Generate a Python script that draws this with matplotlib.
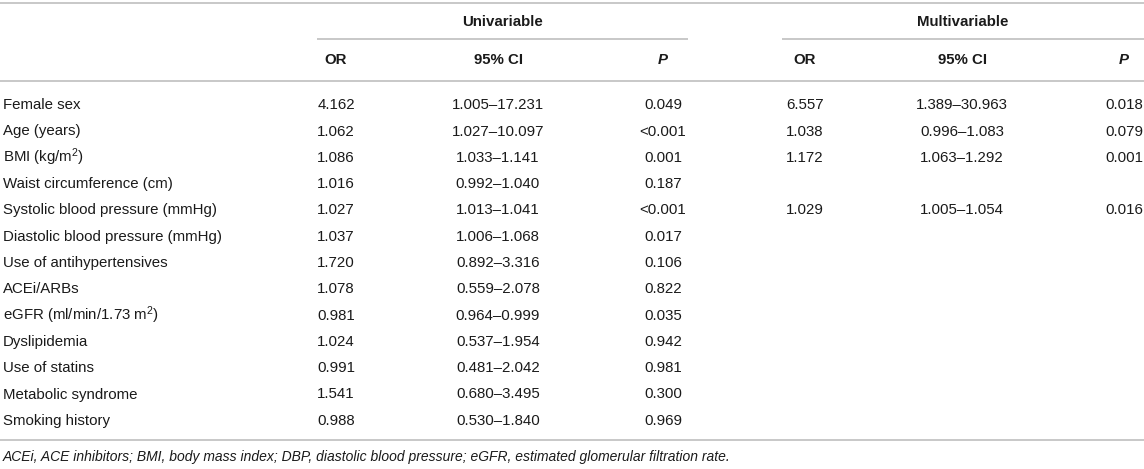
import matplotlib.pyplot as plt

plt.rcParams['font.family'] = ['Liberation Sans', 'DejaVu Sans']
plt.rcParams['mathtext.fontset'] = 'custom'
plt.rcParams['mathtext.rm'] = 'Liberation Sans'

# table content
variables = ['Female sex', 'Age (years)', 'BMI (kg/m$\\mathregular{^2}$)',
             'Waist circumference (cm)', 'Systolic blood pressure (mmHg)',
             'Diastolic blood pressure (mmHg)', 'Use of antihypertensives',
             'ACEi/ARBs', 'eGFR (ml/min/1.73 m$\\mathregular{^2}$)', 'Dyslipidemia',
             'Use of statins', 'Metabolic syndrome', 'Smoking history']
uni_or = ['4.162', '1.062', '1.086', '1.016', '1.027', '1.037', '1.720',
          '1.078', '0.981', '1.024', '0.991', '1.541', '0.988']
uni_ci = ['1.005–17.231', '1.027–10.097', '1.033–1.141', '0.992–1.040',
          '1.013–1.041', '1.006–1.068', '0.892–3.316', '0.559–2.078',
          '0.964–0.999', '0.537–1.954', '0.481–2.042', '0.680–3.495',
          '0.530–1.840']
uni_p = ['0.049', '<0.001', '0.001', '0.187', '<0.001', '0.017', '0.106',
         '0.822', '0.035', '0.942', '0.981', '0.300', '0.969']
multi_or = ['6.557', '1.038', '1.172', '', '1.029', '', '', '', '', '', '', '', '']
multi_ci = ['1.389–30.963', '0.996–1.083', '1.063–1.292', '', '1.005–1.054',
            '', '', '', '', '', '', '', '']
multi_p = ['0.018', '0.079', '0.001', '', '0.016', '', '', '', '', '', '', '', '']
groups = ['Univariable', 'Multivariable']
col_headers = ['OR', '95% CI', 'P']
footnote = ('ACEi, ACE inhibitors; BMI, body mass index; DBP, diastolic blood pressure; '
            'eGFR, estimated glomerular filtration rate.')

W, H = 1144, 469
fig = plt.figure(figsize=(W / 100, H / 100), dpi=100)
ax = fig.add_axes([0, 0, 1, 1])
ax.set_xlim(0, W)
ax.set_ylim(H, 0)
ax.axis('off')

txt = '#1a1a1a'
line_c = '#c4c4c4'
fs = 10.8

uni_x = [336, 498, 663]
multi_x = [805, 962, 1124]
group_spans = [(317, 688), (782, 1144)]

# rules
ax.hlines([3, 81, 440], 0, W, color=line_c, lw=1.3)
for x0, x1 in group_spans:
    ax.hlines(39, x0, x1, color=line_c, lw=1.3)

# group headers
for g, (x0, x1) in zip(groups, group_spans):
    ax.text((x0 + x1) / 2, 22, g, ha='center', va='center', fontsize=fs,
            fontweight='bold', color=txt)

# column headers (P is bold italic)
for xs in (uni_x, multi_x):
    for x, h in zip(xs, col_headers):
        ax.text(x, 60, h, ha='center', va='center', fontsize=fs,
                fontweight='bold', style='italic' if h == 'P' else 'normal',
                color=txt)

# body rows, aligned on baseline so superscripts don't shift the line
row_y0, row_dy = 104, 26.3
for i, v in enumerate(variables):
    y = row_y0 + i * row_dy + 5.2
    ax.text(3, y, v, ha='left', va='baseline', fontsize=fs, color=txt)
    for x, val in zip(uni_x, [uni_or[i], uni_ci[i], uni_p[i]]):
        ax.text(x, y, val, ha='center', va='baseline', fontsize=fs, color=txt)
    for x, val in zip(multi_x, [multi_or[i], multi_ci[i], multi_p[i]]):
        ax.text(x, y, val, ha='center', va='baseline', fontsize=fs, color=txt)

ax.text(3, 457, footnote, ha='left', va='center', fontsize=fs * 0.93,
        style='italic', color=txt)

fig.savefig('out.png', dpi=100)
